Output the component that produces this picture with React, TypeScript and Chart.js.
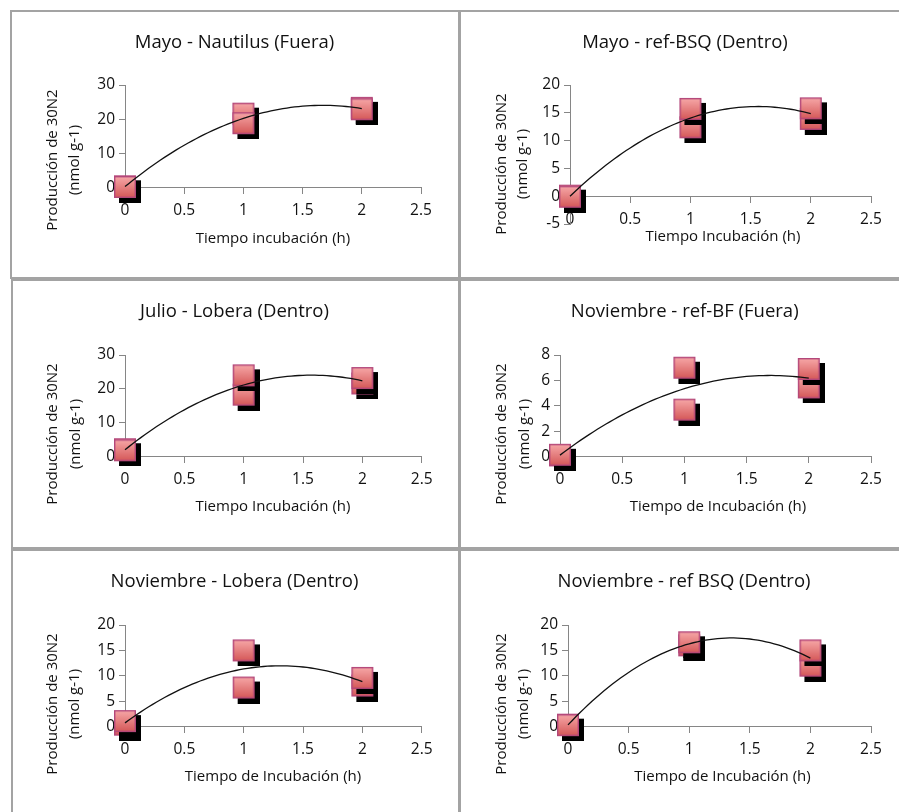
import React, { useEffect, useRef } from 'react';
import { Chart, registerables } from 'chart.js';

Chart.register(...registerables);

// ---------- data ----------
const TIMES_H = [0, 0, 1, 1, 2, 2];

const MAYO_NAUTILUS = [0.3, 0.1, 21.6, 18.8, 23.3, 22.9];
const MAYO_REF_BSQ = [0.1, -0.1, 12.4, 15.7, 13.9, 15.8];
const JULIO_LOBERA = [2.2, 1.9, 18.3, 24.0, 21.6, 23.2];
const NOV_REF_BF = [0.1, 0.15, 7.0, 3.7, 5.45, 6.9];
const NOV_LOBERA = [0.4, 1.1, 15.0, 7.7, 8.1, 9.6];
const NOV_REF_BSQ = [0.4, 0.3, 16.0, 16.6, 12.0, 15.0];

const X_TICKS = [0, 0.5, 1, 1.5, 2, 2.5];
const Y_TICKS_0_30 = [0, 10, 20, 30];
const Y_TICKS_M5_20 = [-5, 0, 5, 10, 15, 20];
const Y_TICKS_0_20 = [0, 5, 10, 15, 20];
const Y_TICKS_0_8 = [0, 2, 4, 6, 8];

const TITLES = [
  'Mayo - Nautilus (Fuera)',
  'Mayo - ref-BSQ (Dentro)',
  'Julio - Lobera (Dentro)',
  'Noviembre - ref-BF (Fuera)',
  'Noviembre - Lobera (Dentro)',
  'Noviembre - ref BSQ (Dentro)',
];
const X_TITLES = [
  'Tiempo incubación (h)',
  'Tiempo Incubación (h)',
  'Tiempo Incubación (h)',
  'Tiempo de Incubación (h)',
  'Tiempo de Incubación (h)',
  'Tiempo de Incubación (h)',
];
const Y_TITLE_LINES = ['Producción de 30N2', '(nmol g-1)'];

// ---------- style / layout ----------
const FONT = '"Open Sans", "Noto Sans", sans-serif';
const TEXT = '#111';
const AXIS = '#868686';
const Y_AXIS_W = 40;

type Layout = {
  box: { x: number; y: number; w: number; h: number };
  plot: { l: number; r: number; t: number; b: number }; // in box coordinates
  title: [number, number];
  xTitle: [number, number];
  yTitleXs: [number, number];
  yTitleY: number;
};

const LAYOUTS: Layout[] = [
  { box: { x: 10, y: 10, w: 450, h: 269 }, plot: { l: 115, r: 411, t: 75, b: 177.3 }, title: [224.5, 33], xTitle: [263, 228.5], yTitleXs: [43, 65], yTitleY: 150 },
  { box: { x: 459, y: 10, w: 460, h: 269 }, plot: { l: 111, r: 412, t: 75, b: 214 }, title: [226, 33], xTitle: [264, 227], yTitleXs: [43, 64], yTitleY: 154 },
  { box: { x: 11, y: 279, w: 449, h: 270 }, plot: { l: 114, r: 410.7, t: 76, b: 177.7 }, title: [223.5, 32.7], xTitle: [262, 227.7], yTitleXs: [42, 65], yTitleY: 155 },
  { box: { x: 459, y: 279, w: 460, h: 270 }, plot: { l: 101, r: 412, t: 76, b: 177.7 }, title: [225.7, 32.7], xTitle: [259, 227.7], yTitleXs: [42.7, 65.3], yTitleY: 155 },
  { box: { x: 11, y: 549, w: 449, h: 273 }, plot: { l: 114, r: 410.7, t: 76, b: 177.7 }, title: [223.5, 32.7], xTitle: [262, 227.7], yTitleXs: [42, 64], yTitleY: 155 },
  { box: { x: 459, y: 549, w: 460, h: 273 }, plot: { l: 109, r: 412, t: 76, b: 177.7 }, title: [225, 32.7], xTitle: [263.5, 227.7], yTitleXs: [42.7, 64.3], yTitleY: 155 },
];

const PANELS = [
  { values: MAYO_NAUTILUS, yTicks: Y_TICKS_0_30 },
  { values: MAYO_REF_BSQ, yTicks: Y_TICKS_M5_20 },
  { values: JULIO_LOBERA, yTicks: Y_TICKS_0_30 },
  { values: NOV_REF_BF, yTicks: Y_TICKS_0_8 },
  { values: NOV_LOBERA, yTicks: Y_TICKS_0_20 },
  { values: NOV_REF_BSQ, yTicks: Y_TICKS_0_20 },
];

// Excel-style polynomial (order 2) trendline: least-squares fit of the data
function quadFit(xs: number[], ys: number[]) {
  let n = 0, s1 = 0, s2 = 0, s3 = 0, s4 = 0, t0 = 0, t1 = 0, t2 = 0;
  xs.forEach((x, i) => {
    const y = ys[i];
    n += 1; s1 += x; s2 += x * x; s3 += x * x * x; s4 += x * x * x * x;
    t0 += y; t1 += x * y; t2 += x * x * y;
  });
  const det3 = (m: number[][]) =>
    m[0][0] * (m[1][1] * m[2][2] - m[1][2] * m[2][1]) -
    m[0][1] * (m[1][0] * m[2][2] - m[1][2] * m[2][0]) +
    m[0][2] * (m[1][0] * m[2][1] - m[1][1] * m[2][0]);
  const A = [[n, s1, s2], [s1, s2, s3], [s2, s3, s4]];
  const B = [t0, t1, t2];
  const D = det3(A);
  const col = (k: number) => det3(A.map((row, i) => row.map((v, j) => (j === k ? B[i] : v))));
  return { c: col(0) / D, b: col(1) / D, a: col(2) / D };
}

function trendPoints(xs: number[], ys: number[]) {
  const { a, b, c } = quadFit(xs, ys);
  const lo = Math.min(...xs), hi = Math.max(...xs);
  const pts: { x: number; y: number }[] = [];
  const steps = 60;
  for (let i = 0; i <= steps; i++) {
    const x = lo + ((hi - lo) * i) / steps;
    pts.push({ x, y: a * x * x + b * x + c });
  }
  return pts;
}

let markerCache: HTMLCanvasElement | null = null;
function marker(): HTMLCanvasElement {
  if (markerCache) return markerCache;
  const S = 22, OFF = 5, size = S + 2 * OFF;
  const c = document.createElement('canvas');
  c.width = size; c.height = size;
  const g = c.getContext('2d')!;
  g.fillStyle = '#000';
  g.fillRect(OFF * 2, OFF * 2, S, S);
  const grad = g.createLinearGradient(0, OFF, 0, OFF + S);
  grad.addColorStop(0, '#f7a9a9');
  grad.addColorStop(1, '#d45656');
  g.fillStyle = grad;
  g.fillRect(OFF, OFF, S, S);
  g.strokeStyle = '#b3477a';
  g.lineWidth = 1.4;
  g.strokeRect(OFF + 0.7, OFF + 0.7, S - 1.4, S - 1.4);
  markerCache = c;
  return c;
}

function textPlugin(idx: number) {
  const L = LAYOUTS[idx];
  return {
    id: 'panelText' + idx,
    afterDraw(chart: Chart) {
      const ctx = chart.ctx;
      ctx.save();
      ctx.fillStyle = TEXT;
      ctx.textAlign = 'center';
      ctx.textBaseline = 'middle';
      ctx.font = `18.5px ${FONT}`;
      ctx.fillText(TITLES[idx], L.title[0], L.title[1]);
      ctx.font = `15px ${FONT}`;
      ctx.fillText(X_TITLES[idx], L.xTitle[0], L.xTitle[1]);
      Y_TITLE_LINES.forEach((line, i) => {
        ctx.save();
        ctx.translate(L.yTitleXs[i], L.yTitleY);
        ctx.rotate(-Math.PI / 2);
        ctx.fillText(line, 0, 0);
        ctx.restore();
      });
      ctx.restore();
    },
  };
}

function Panel({ idx }: { idx: number }) {
  const ref = useRef<HTMLCanvasElement>(null);
  const L = LAYOUTS[idx];
  const P = PANELS[idx];

  useEffect(() => {
    if (!ref.current) return;
    const yMin = P.yTicks[0];
    const yMax = P.yTicks[P.yTicks.length - 1];
    const pts = TIMES_H.map((x, i) => ({ x, y: P.values[i] }));
    const chart = new Chart(ref.current, {
      type: 'scatter',
      data: {
        datasets: [
          {
            type: 'line',
            data: trendPoints(TIMES_H, P.values),
            borderColor: '#111',
            borderWidth: 1.3,
            pointRadius: 0,
            fill: false,
            tension: 0,
            showLine: true,
            clip: false,
            order: 0,
          } as any,
          {
            data: pts,
            pointStyle: marker(),
            pointRadius: 11,
            clip: false,
            order: 1,
          } as any,
        ],
      },
      options: {
        responsive: false,
        animation: false,
        devicePixelRatio: 1,
        events: [],
        layout: {
          padding: {
            left: L.plot.l - Y_AXIS_W,
            top: L.plot.t,
            right: L.box.w - L.plot.r,
            bottom: L.box.h - L.plot.b,
          },
        },
        plugins: {
          legend: { display: false },
          tooltip: { enabled: false },
          title: { display: false },
        },
        scales: {
          x: {
            type: 'linear',
            position: { y: 0 } as any,
            min: X_TICKS[0],
            max: X_TICKS[X_TICKS.length - 1],
            afterBuildTicks: (s: any) => { s.ticks = X_TICKS.map((v) => ({ value: v })); },
            grid: { drawOnChartArea: false, drawTicks: true, tickLength: 6, color: AXIS },
            border: { display: true, color: AXIS, width: 1 },
            ticks: {
              autoSkip: false, maxRotation: 0, padding: 8, color: TEXT,
              font: { family: FONT, size: 15.5 },
              callback: (v: any) => String(v),
            },
          },
          y: {
            type: 'linear',
            position: 'left',
            min: yMin,
            max: yMax,
            afterBuildTicks: (s: any) => { s.ticks = P.yTicks.map((v) => ({ value: v })); },
            afterFit: (s: any) => { s.width = Y_AXIS_W; },
            grid: { drawOnChartArea: false, drawTicks: true, tickLength: 6, color: AXIS },
            border: { display: true, color: AXIS, width: 1 },
            ticks: {
              autoSkip: false, padding: 4, color: TEXT,
              font: { family: FONT, size: 15.5 },
              callback: (v: any) => String(v),
            },
          },
        },
      } as any,
      plugins: [textPlugin(idx)],
    });
    let dead = false;
    const fonts: any = (document as any).fonts;
    if (fonts && fonts.load) {
      Promise.all([fonts.load(`15px ${FONT}`), fonts.load(`18px ${FONT}`)])
        .catch(() => null)
        .then(() => { if (!dead) chart.update(); });
    }
    return () => { dead = true; chart.destroy(); };
  }, [idx]);

  return (
    <>
      <canvas
        ref={ref}
        width={L.box.w}
        height={L.box.h}
        style={{ position: 'absolute', left: L.box.x, top: L.box.y, width: L.box.w, height: L.box.h }}
      />
      <div
        style={{
          position: 'absolute', left: L.box.x, top: L.box.y, width: L.box.w, height: L.box.h,
          border: '2px solid #a3a3a3', boxSizing: 'border-box', pointerEvents: 'none',
        }}
      />
    </>
  );
}

export default function App() {
  return (
    <div
      style={{
        position: 'absolute', left: 0, top: 0, width: 899, height: 812,
        overflow: 'hidden', background: '#fff',
      }}
    >
      {PANELS.map((_, i) => <Panel key={i} idx={i} />)}
    </div>
  );
}
